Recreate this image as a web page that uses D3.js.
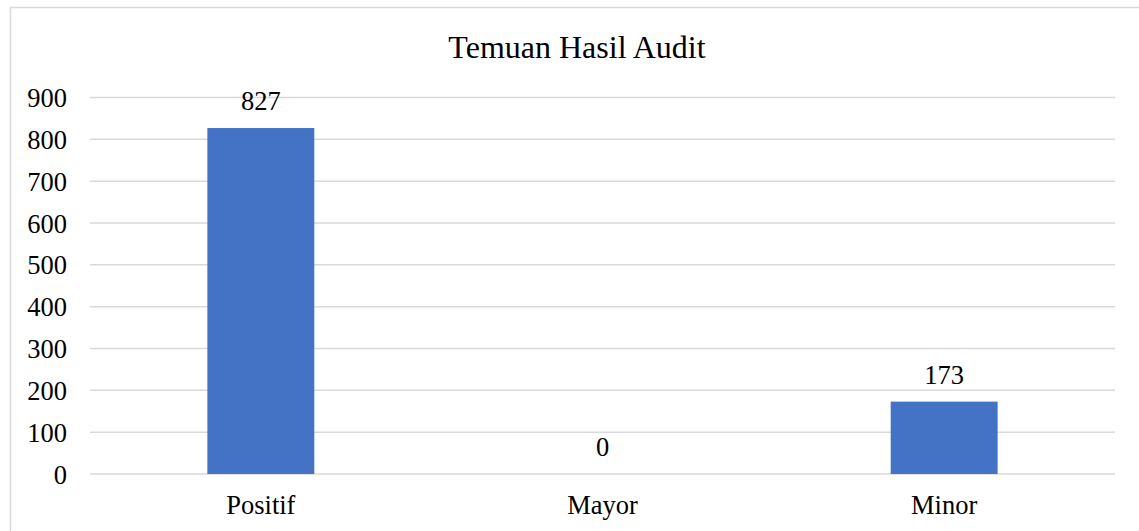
<!DOCTYPE html>
<html>
<head>
<meta charset="utf-8">
<script src="https://cdn.jsdelivr.net/npm/d3@7"></script>
<style>
  body { margin: 0; background: #fff; }
</style>
</head>
<body>
<svg id="chart" width="1139" height="531"></svg>
<script>
// chart data
const categories = ['Positif', 'Mayor', 'Minor'];
const values = [827, 0, 173];
const yTicks = [0, 100, 200, 300, 400, 500, 600, 700, 800, 900];
const chartTitle = 'Temuan Hasil Audit';

const serif = "'Liberation Serif', 'Times New Roman', serif";
const svg = d3.select('#chart');
const plotLeft = 90, plotRight = 1115, plotTop = 97.5, plotBottom = 474;

// outer chart border (only left/top visible)
svg.append('rect')
    .attr('x', 10.5).attr('y', 7.5)
    .attr('width', 1150).attr('height', 540)
    .attr('fill', 'none')
    .attr('stroke', '#d9d9d9')
    .attr('stroke-width', 1.5);

const x = d3.scaleBand()
    .domain(categories)
    .range([plotLeft, plotRight])
    .paddingInner(0.687)
    .paddingOuter(0.3435);

const y = d3.scaleLinear()
    .domain([0, 900])
    .range([plotBottom, plotTop]);

// gridlines
svg.append('g')
    .selectAll('line')
    .data(yTicks)
    .join('line')
    .attr('x1', plotLeft).attr('x2', plotRight)
    .attr('y1', d => y(d)).attr('y2', d => y(d))
    .attr('stroke', '#d9d9d9')
    .attr('stroke-width', 1.5);

// y axis labels
const yAxis = d3.axisLeft(y).tickValues(yTicks).tickSize(0).tickPadding(0);
const yg = svg.append('g')
    .attr('transform', `translate(67,0)`)
    .call(yAxis);
yg.attr('font-family', null).attr('font-size', null);
yg.select('.domain').remove();
yg.selectAll('text')
    .style('font-family', serif)
    .style('font-size', '26.5px')
    .attr('dy', '0.34em')
    .attr('fill', '#000');

// bars
svg.append('g')
    .selectAll('rect')
    .data(values)
    .join('rect')
    .attr('x', (d, i) => x(categories[i]))
    .attr('y', d => y(d))
    .attr('width', x.bandwidth())
    .attr('height', d => y(0) - y(d))
    .attr('fill', '#4472c4');

// value labels
svg.append('g')
    .selectAll('text')
    .data(values)
    .join('text')
    .attr('x', (d, i) => x(categories[i]) + x.bandwidth() / 2)
    .attr('y', d => y(d) - 18)
    .attr('text-anchor', 'middle')
    .style('font-family', serif)
    .style('font-size', '26.5px')
    .attr('fill', '#000')
    .text(d => d);

// category labels
const xAxis = d3.axisBottom(x).tickSize(0).tickPadding(0);
const xg = svg.append('g')
    .attr('transform', `translate(0,${plotBottom})`)
    .call(xAxis);
xg.attr('font-family', null).attr('font-size', null);
xg.select('.domain').remove();
xg.selectAll('text')
    .attr('dy', null)
    .attr('y', 40)
    .style('font-family', serif)
    .style('font-size', '26.5px')
    .attr('fill', '#000');

// title
svg.append('text')
    .attr('x', 577)
    .attr('y', 58)
    .attr('text-anchor', 'middle')
    .style('font-family', serif)
    .style('font-size', '32px')
    .attr('fill', '#000')
    .text(chartTitle);
</script>
</body>
</html>
